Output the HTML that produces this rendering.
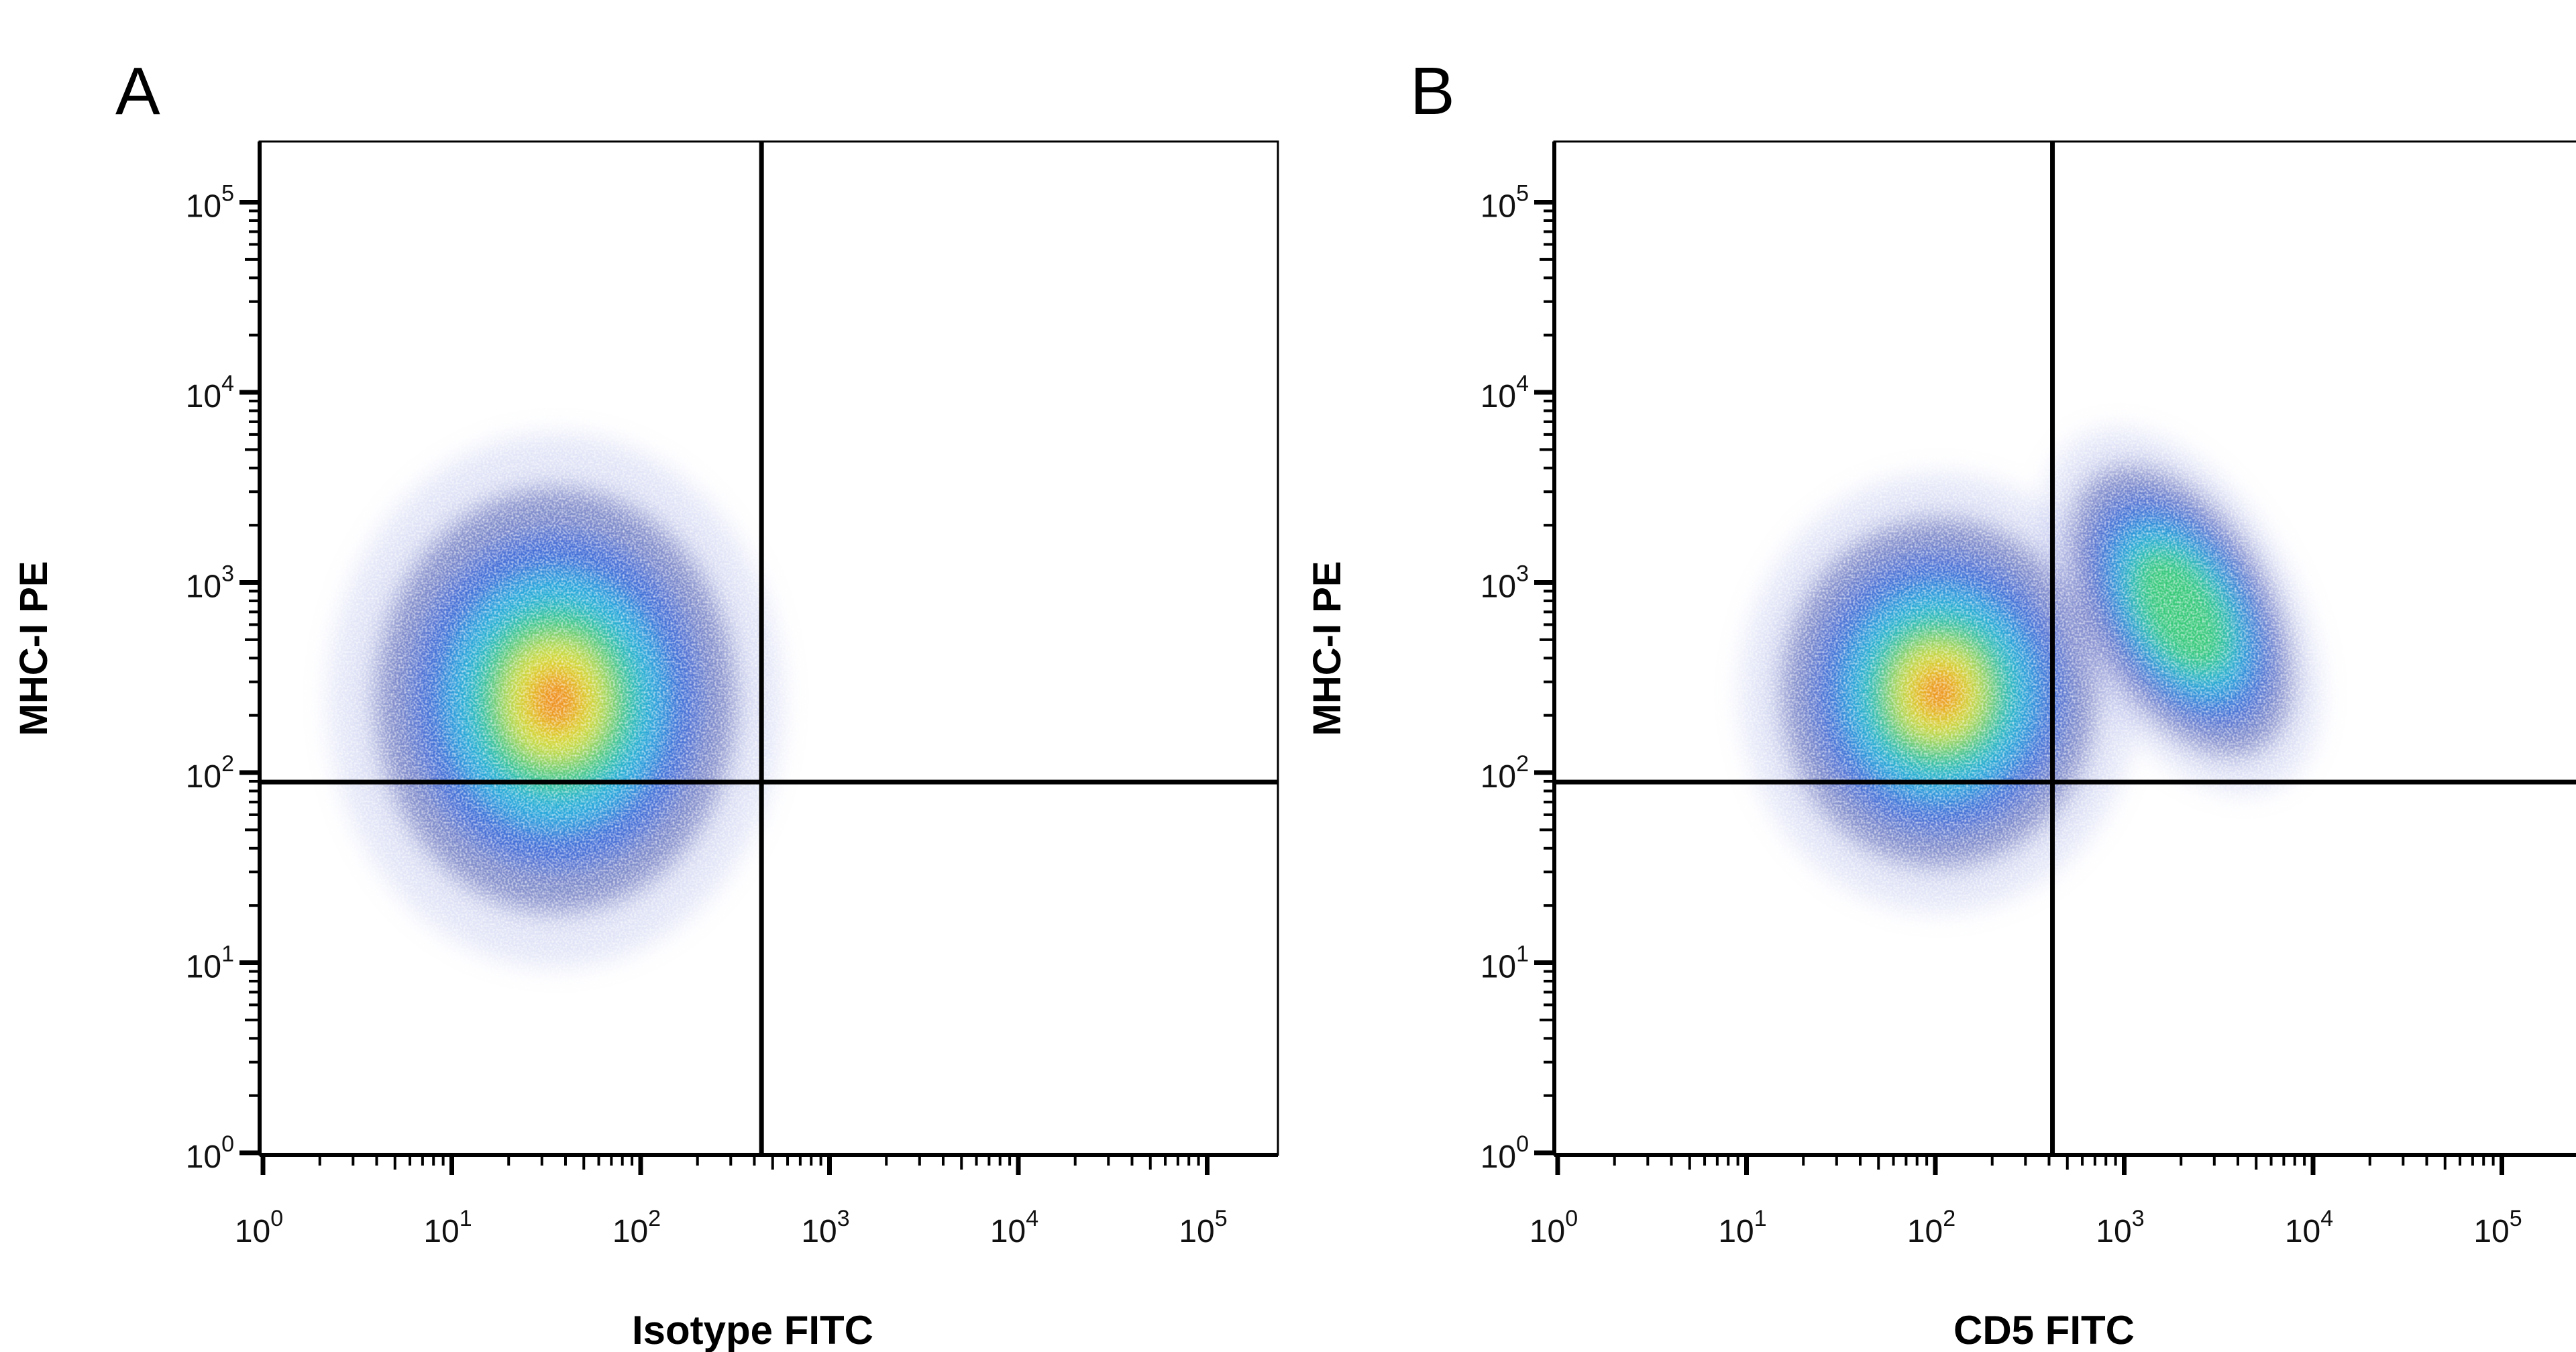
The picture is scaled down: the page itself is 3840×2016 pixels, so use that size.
<!DOCTYPE html>
<html><head><meta charset="utf-8">
<style>
html,body{margin:0;padding:0;background:#fff;width:3840px;height:2016px;overflow:hidden}
svg{display:block}
text{font-family:"Liberation Sans",sans-serif}
</style></head>
<body>
<svg id="chart" width="3840" height="2016" viewBox="0 0 3840 2016" xmlns="http://www.w3.org/2000/svg">
<defs>
<filter id="blur" x="-50%" y="-50%" width="200%" height="200%"><feGaussianBlur stdDeviation="18"/></filter>
<filter id="speck" x="0" y="0" width="100%" height="100%">
<feTurbulence type="fractalNoise" baseFrequency="0.35" numOctaves="1" seed="3" result="n"/>
<feColorMatrix in="n" type="matrix" values="0 0 0 0 1  0 0 0 0 1  0 0 0 0 1  0 0 0 -2.2 1.35" />
</filter>
</defs>
</svg>
<script>
// ---- data ----
const decades = [0,1,2,3,4,5];
const panels = ['A','B'];
const xTitles = ['Isotype FITC','CD5 FITC'];
const yTitle = 'MHC-I PE';
const gateX = [2.64, 2.62];   // log10 of vertical gate
const gateY = 1.95;           // log10 of horizontal gate
// clusters: panel index, center (log x, log y), radius (decades), rotation, levels
const clusterPanel = [0, 1, 1];
const clusterX = [1.55, 2.02, 3.3];
const clusterY = [2.38, 2.42, 2.85];
const clusterRX = [1.2, 1.05, 0.6];
const clusterRY = [1.4, 1.15, 1.05];
const clusterRot = [0, 0, -30];
const clusterLevels = [7, 7, 5];
// ---- layout ----
const NS='http://www.w3.org/2000/svg';
const svg=document.getElementById('chart');
const boxL=[387,2317], boxR=[1905,3860], boxT=211, boxB=1722;
const x0=[392,2322], dec=281.5, y0=1719;
function px(p,d){return x0[p]+dec*d;}
function py(d){return y0-283.5*d;}
function mk(tag,attrs,parent){const e=document.createElementNS(NS,tag);for(const k in attrs)e.setAttribute(k,attrs[k]);(parent||svg).appendChild(e);return e;}
const palette=['#9aa6e6','#24349e','#2a5ee0','#22bde0','#3fd06a','#e6e22a','#f08a22'];
const scales=[1,0.8,0.63,0.48,0.35,0.23,0.12];
const opac=[0.3,0.5,0.7,0.8,0.85,0.9,0.95];

panels.forEach((lab,p)=>{
  const g=mk('g',{});
  
  
  const dg=mk('g',{filter:'url(#blur)'},g);
  
  
  clusterPanel.forEach((cp,i)=>{
    if(cp!==p)return;
    const cx=px(p,clusterX[i]), cy=py(clusterY[i]);
    for(let l=0;l<clusterLevels[i];l++){
      const e=mk('ellipse',{cx:cx,cy:cy,rx:clusterRX[i]*dec*scales[l],ry:clusterRY[i]*283.5*scales[l],fill:palette[l],opacity:opac[l],transform:`rotate(${clusterRot[i]} ${cx} ${cy})`},dg);
      
      
    }
  });
  mk('rect',{x:boxL[p],y:boxT,width:Math.min(boxR[p],3840)-boxL[p],height:boxB-boxT,filter:'url(#speck)',opacity:0.7},g);
  const box=mk('rect',{x:boxL[p],y:boxT,width:boxR[p]-boxL[p],height:boxB-boxT,fill:'none',stroke:'#000','stroke-width':3},g);
  
  
  const gv=mk('line',{x1:px(p,gateX[p]),x2:px(p,gateX[p]),y1:boxT,y2:boxB,stroke:'#000','stroke-width':7},g);
  
  
  const gh=mk('line',{x1:boxL[p],x2:boxR[p],y1:py(gateY),y2:py(gateY),stroke:'#000','stroke-width':7},g);
  
  
  mk('line',{x1:boxL[p],x2:boxR[p],y1:boxB,y2:boxB,stroke:'#000','stroke-width':6},g);
  mk('line',{x1:boxL[p],x2:boxL[p],y1:boxT,y2:boxB,stroke:'#000','stroke-width':6},g);
  decades.forEach(d=>{
    mk('line',{x1:px(p,d),x2:px(p,d),y1:boxB,y2:boxB+30,stroke:'#000','stroke-width':7},g);
    mk('line',{x1:boxL[p]-30,x2:boxL[p],y1:py(d),y2:py(d),stroke:'#000','stroke-width':7},g);
    if(d<5){for(let m=2;m<10;m++){const o=Math.log10(m);
      mk('line',{x1:px(p,d+o),x2:px(p,d+o),y1:boxB,y2:boxB+(m==5?22:16),stroke:'#000','stroke-width':4},g);
      mk('line',{x1:boxL[p]-(m==5?22:16),x2:boxL[p],y1:py(d+o),y2:py(d+o),stroke:'#000','stroke-width':4},g);}}
    const tx=mk('text',{x:px(p,d)-6,y:1852,'font-size':48,'text-anchor':'middle',fill:'#111'},g);
    tx.innerHTML='10<tspan dy="-24" font-size="34">'+d+'</tspan>';
    
    
    const ty=mk('text',{x:boxL[p]-38,y:py(d)+22,'font-size':48,'text-anchor':'end',fill:'#111'},g);
    ty.innerHTML='10<tspan dy="-24" font-size="34">'+d+'</tspan>';
    
    
  });
  const xt=mk('text',{x:p==0?1122:3047,y:2004,'font-size':60,'font-weight':'bold','text-anchor':'middle'},g);
  xt.textContent=xTitles[p];
  
  
  const yx=p==0?70:1998;
  const yt=mk('text',{x:yx,y:967,'font-size':58,'font-weight':'bold','text-anchor':'middle',transform:`rotate(-90 ${yx} 967)`},g);
  yt.textContent=yTitle;
  
  
  const pl=mk('text',{x:p==0?172:2102,y:170,'font-size':100},g);
  pl.textContent=lab;
  
  
});
</script>
</body></html>
